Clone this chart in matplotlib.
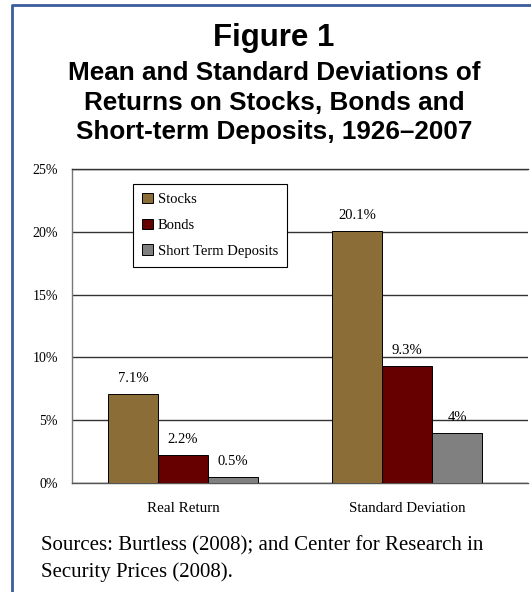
import matplotlib
matplotlib.use("Agg")
import matplotlib.pyplot as plt
from matplotlib.lines import Line2D
from matplotlib.patches import Patch
import numpy as np

categories = ["Real Return", "Standard Deviation"]
series_names = ["Stocks", "Bonds", "Short Term Deposits"]
stocks = [7.1, 20.1]
bonds = [2.2, 9.3]
short_term = [0.5, 4.0]
value_labels = [["7.1%", "20.1%"], ["2.2%", "9.3%"], ["0.5%", "4%"]]
yticks = [0, 5, 10, 15, 20, 25]
ytick_labels = ["0%", "5%", "10%", "15%", "20%", "25%"]
colors = ["#8B6D38", "#660000", "#808080"]

W, H = 531, 592
fig = plt.figure(figsize=(W / 100, H / 100), dpi=100)
fig.patch.set_facecolor("white")

def fx(px):
    return px / W

def fy(py):
    return 1 - py / H

# blue frame (top and left only visible)
fig.add_artist(Line2D([fx(12), fx(12), fx(531)], [fy(592), fy(5), fy(5)],
                      color="#3B5C9E", lw=2.0, transform=fig.transFigure))

sans = ["Liberation Sans", "DejaVu Sans"]
serif = ["Liberation Serif", "DejaVu Serif"]

fig.text(fx(274), fy(46), "Figure 1", ha="center", va="baseline",
         fontsize=22.5, fontweight="bold", family=sans)
sub = ["Mean and Standard Deviations of",
       "Returns on Stocks, Bonds and",
       "Short-term Deposits, 1926\u20132007"]
for i, line in enumerate(sub):
    fig.text(fx(274), fy(80 + i * 29.5), line, ha="center", va="baseline",
             fontsize=18.8, fontweight="bold", family=sans)

ax = fig.add_axes([fx(72), fy(483), fx(528) - fx(72), fy(169) - fy(483)])
x = np.arange(len(categories))
bw = 0.223
all_series = [stocks, bonds, short_term]
for i, (vals, c) in enumerate(zip(all_series, colors)):
    pos = x + (i - 1) * bw
    ax.bar(pos, vals, width=bw, color=c, edgecolor="black", linewidth=0.7,
           zorder=3, label=series_names[i])
    for p, v, lab in zip(pos, vals, value_labels[i]):
        ax.annotate(lab, (p, v), xytext=(0, 6.5), textcoords="offset points",
                    ha="center", va="bottom", fontsize=10.5, family=serif, zorder=4)

ax.set_xlim(-0.496, 1.54)
ax.set_ylim(0, 25)
ax.set_yticks(yticks)
ax.set_yticklabels(ytick_labels, family=serif, fontsize=10)
ax.set_xticks(x)
ax.set_xticklabels(categories, family=serif, fontsize=10.8)
ax.tick_params(axis="y", length=0, pad=10)
ax.tick_params(axis="x", length=0, pad=14)
ax.yaxis.grid(True, color="#333333", linewidth=1.0, zorder=0)
ax.set_axisbelow(True)
ax.spines["right"].set_visible(False)
ax.spines["top"].set_color("#333333")
ax.spines["left"].set_color("#777777")
ax.spines["bottom"].set_color("#555555")
for s in ["top", "left", "bottom"]:
    ax.spines[s].set_linewidth(1.0)

handles = [Patch(facecolor=c, edgecolor="black", linewidth=0.7) for c in colors]
leg = ax.legend(handles, series_names, loc="upper left",
                bbox_to_anchor=((133 - 72) / (528 - 72), (483 - 184) / (483 - 169)),
                prop={"family": serif, "size": 10.5}, frameon=True, fancybox=False,
                edgecolor="black", framealpha=1, handlelength=0.75, handleheight=0.75,
                handletextpad=0.35, labelspacing=0.85, borderpad=0.6,
                borderaxespad=0)
leg.get_frame().set_linewidth(0.8)

fig.text(fx(41), fy(550), "Sources: Burtless (2008); and Center for Research in",
         ha="left", va="baseline", fontsize=15, family=serif)
fig.text(fx(41), fy(577), "Security Prices (2008).",
         ha="left", va="baseline", fontsize=15, family=serif)

fig.savefig("out.png", dpi=100)
